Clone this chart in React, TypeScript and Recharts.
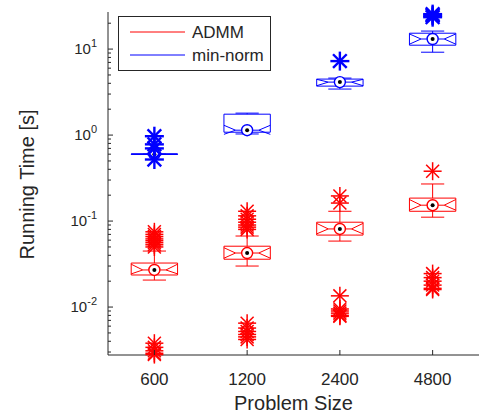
import React from 'react';
import { ComposedChart, Line, Scatter, XAxis, YAxis, Legend } from 'recharts';

// ---------- data ----------
const categories = ['600', '1200', '2400', '4800'];
const positions = [1, 2, 3, 4];
const seriesNames = ['ADMM', 'min-norm'];
const seriesColors = ['#ff0000', '#0000ff'];

const admmMedian = [0.027, 0.0425, 0.081, 0.153];
const admmQ1 = [0.0236, 0.036, 0.0687, 0.13];
const admmQ3 = [0.0325, 0.051, 0.097, 0.185];
const admmNotchLo = [0.0243, 0.037, 0.071, 0.134];
const admmNotchHi = [0.0315, 0.049, 0.094, 0.178];
const admmWhiskerLo = [0.0206, 0.03, 0.0585, 0.111];
const admmWhiskerHi = [0.0448, 0.067, 0.13, 0.27];
const admmOutliers = [
  [0.075, 0.07, 0.066, 0.062, 0.059, 0.056, 0.053, 0.05, 0.0038, 0.0034, 0.0031, 0.0029, 0.0028],
  [0.13, 0.115, 0.105, 0.097, 0.09, 0.085, 0.08, 0.0065, 0.0057, 0.0052, 0.0048, 0.0045, 0.0042],
  [0.196, 0.162, 0.0135, 0.0095, 0.009, 0.0085, 0.008, 0.0078],
  [0.38, 0.0245, 0.022, 0.02, 0.018, 0.0165, 0.016],
];

const minNormMedian = [0.6, 1.14, 4.13, 13.1];
const minNormQ1 = [0.597, 1.08, 3.71, 11.1];
const minNormQ3 = [0.603, 1.75, 4.48, 15.3];
const minNormNotchLo = [0.6, 1.02, 3.75, 11.4];
const minNormNotchHi = [0.6, 1.3, 4.45, 15.0];
const minNormWhiskerLo = [0.597, 1.03, 3.43, 9.2];
const minNormWhiskerHi = [0.603, 1.8, 4.6, 16.2];
const minNormOutliers = [
  [0.97, 0.78, 0.7, 0.52],
  [],
  [7.25],
  [24.5, 23.5, 25.5],
];

const yMajorTicks = [0.01, 0.1, 1, 10];
const yMinorTicks = [
  0.003, 0.004, 0.005, 0.006, 0.007, 0.008, 0.009,
  0.02, 0.03, 0.04, 0.05, 0.06, 0.07, 0.08, 0.09,
  0.2, 0.3, 0.4, 0.5, 0.6, 0.7, 0.8, 0.9,
  2, 3, 4, 5, 6, 7, 8, 9, 20,
];
const yDomain = [0.00277, 27];
const xDomain = [0.5, 4.5];

// ---------- helpers ----------
const HALF = 0.25; // half box width (x units)
const FONT = '"Liberation Sans", Arial, Helvetica, sans-serif';
const AX = '#262626';

type P = { x: number; y: number | null };

function boxPaths(q1: number[], q3: number[], med: number[], nLo: number[], nHi: number[], wLo: number[], wHi: number[]): P[] {
  const pts: P[] = [];
  const seg = (arr: number[][]) => {
    arr.forEach(([x, y]) => pts.push({ x, y }));
    pts.push({ x: arr[arr.length - 1][0], y: null });
  };
  positions.forEach((p, i) => {
    seg([[p - HALF, q3[i]], [p + HALF, q3[i]], [p + HALF, q1[i]], [p - HALF, q1[i]], [p - HALF, q3[i]]]);
    seg([[p - HALF, nHi[i]], [p - HALF / 2, med[i]], [p - HALF, nLo[i]]]);
    seg([[p + HALF, nHi[i]], [p + HALF / 2, med[i]], [p + HALF, nLo[i]]]);
    seg([[p - HALF / 2, med[i]], [p + HALF / 2, med[i]]]);
    seg([[p, q3[i]], [p, wHi[i]]]);
    seg([[p - HALF / 2, wHi[i]], [p + HALF / 2, wHi[i]]]);
    seg([[p, q1[i]], [p, wLo[i]]]);
    seg([[p - HALF / 2, wLo[i]], [p + HALF / 2, wLo[i]]]);
  });
  return pts;
}

const admmBox = boxPaths(admmQ1, admmQ3, admmMedian, admmNotchLo, admmNotchHi, admmWhiskerLo, admmWhiskerHi);
const minNormBox = boxPaths(minNormQ1, minNormQ3, minNormMedian, minNormNotchLo, minNormNotchHi, minNormWhiskerLo, minNormWhiskerHi);

const medianPts = (m: number[]) => positions.map((p, i) => ({ x: p, y: m[i] }));
const outlierPts = (o: number[][]) => positions.flatMap((p, i) => o[i].map((v) => ({ x: p, y: v })));

const admmMedPts = medianPts(admmMedian);
const minNormMedPts = medianPts(minNormMedian);
const admmOutPts = outlierPts(admmOutliers);
const minNormOutPts = outlierPts(minNormOutliers);

const medianShape = (color: string) => (props: any) => {
  const { cx, cy } = props;
  if (cx == null || cy == null) return <g />;
  return (
    <g>
      <circle cx={cx} cy={cy} r={5.5} fill="#fff" stroke={color} strokeWidth={1.4} />
      <circle cx={cx} cy={cy} r={2} fill="#000" />
    </g>
  );
};

const asteriskShape = (color: string, half: number, sw: number) => (props: any) => {
  const { cx, cy } = props;
  if (cx == null || cy == null) return <g />;
  const d = half * 0.72;
  return (
    <g stroke={color} strokeWidth={sw} strokeLinecap="butt">
      <line x1={cx - half} y1={cy} x2={cx + half} y2={cy} />
      <line x1={cx} y1={cy - half} x2={cx} y2={cy + half} />
      <line x1={cx - d} y1={cy - d} x2={cx + d} y2={cy + d} />
      <line x1={cx - d} y1={cy + d} x2={cx + d} y2={cy - d} />
    </g>
  );
};

const isMajor = (v: number) => Math.abs(Math.log10(v) - Math.round(Math.log10(v))) < 1e-6;

const LeftYTick = (props: any) => {
  const { x, y, payload } = props;
  const v = payload.value;
  const major = isMajor(v);
  const len = major ? 5 : 3;
  const exp = Math.round(Math.log10(v));
  return (
    <g>
      <line x1={x} x2={x + len} y1={y} y2={y} stroke={AX} strokeWidth={1} />
      {major && (
        <text x={x - 11} y={y + 5} textAnchor="end" fontFamily={FONT} fontSize={15} fill={AX}>
          10<tspan dy={-7} fontSize={11}>{String(exp)}</tspan>
        </text>
      )}
    </g>
  );
};

const RightYTick = (props: any) => {
  const { x, y, payload } = props;
  const len = isMajor(payload.value) ? 5 : 3;
  return <line x1={x} x2={x - len} y1={y} y2={y} stroke={AX} strokeWidth={1} />;
};

const BottomXTick = (props: any) => {
  const { x, y, payload } = props;
  return (
    <g>
      <line x1={x} x2={x} y1={y} y2={y - 5} stroke={AX} strokeWidth={1} />
      <text x={x} y={y + 30} textAnchor="middle" fontFamily={FONT} fontSize={17} fill={AX}>
        {categories[payload.value - 1]}
      </text>
    </g>
  );
};

const TopXTick = (props: any) => {
  const { x, y } = props;
  return <line x1={x} x2={x} y1={y} y2={y + 5} stroke={AX} strokeWidth={1} />;
};

const LegendBox = () => (
  <svg width={153} height={55} style={{ display: 'block' }}>
    <rect x={0.5} y={0.5} width={152} height={54} fill="#fff" stroke={AX} strokeWidth={1} />
    {seriesNames.map((n, i) => (
      <g key={n}>
        <line x1={12} x2={67} y1={16 + i * 23} y2={16 + i * 23} stroke={seriesColors[i]} strokeWidth={1} />
        <text x={74} y={22 + i * 23} fontFamily={FONT} fontSize={17} fill={AX}>{n}</text>
      </g>
    ))}
  </svg>
);

export default function App() {
  const allYTicks = [...yMinorTicks, ...yMajorTicks].sort((a, b) => a - b);
  return (
    <div style={{ position: 'absolute', left: 0, top: 0, width: 492, height: 414, background: '#fff' }}>
      <ComposedChart width={492} height={414} margin={{ top: 12, right: 13, bottom: 0, left: 0 }}>
        <XAxis
          xAxisId="bottom"
          dataKey="x"
          type="number"
          domain={xDomain}
          ticks={positions}
          interval={0}
          height={59}
          tickSize={0}
          tickMargin={0}
          tickLine={false}
          axisLine={{ stroke: AX, strokeWidth: 1 }}
          tick={<BottomXTick />}
          label={(p: any) => {
            const vb = p.viewBox || { x: 108, y: 355, width: 371 };
            return (
              <text x={vb.x + vb.width / 2} y={vb.y + 55} textAnchor="middle" fontFamily={FONT} fontSize={20} fill={AX}>
                Problem Size
              </text>
            );
          }}
        />
        <XAxis
          xAxisId="top"
          orientation="top"
          dataKey="x"
          type="number"
          domain={xDomain}
          ticks={positions}
          interval={0}
          height={0}
          tickSize={0}
          tickMargin={0}
          tickLine={false}
          axisLine={{ stroke: AX, strokeWidth: 1 }}
          tick={<TopXTick />}
        />
        <YAxis
          yAxisId="left"
          dataKey="y"
          type="number"
          scale="log"
          domain={yDomain}
          ticks={allYTicks}
          interval={0}
          width={108}
          tickSize={0}
          tickMargin={0}
          tickLine={false}
          axisLine={{ stroke: AX, strokeWidth: 1 }}
          tick={<LeftYTick />}
          label={(p: any) => {
            const vb = p.viewBox || { x: 0, y: 12, height: 343 };
            const cx = vb.x + 27;
            const cy = vb.y + vb.height / 2 + 1;
            return (
              <text x={cx} y={cy} transform={`rotate(-90 ${cx} ${cy})`} textAnchor="middle" dominantBaseline="central" fontFamily={FONT} fontSize={20} fill={AX}>
                Running Time [s]
              </text>
            );
          }}
        />
        <YAxis
          yAxisId="right"
          orientation="right"
          dataKey="y"
          type="number"
          scale="log"
          domain={yDomain}
          ticks={allYTicks}
          interval={0}
          width={0}
          tickSize={0}
          tickMargin={0}
          tickLine={false}
          axisLine={{ stroke: AX, strokeWidth: 1 }}
          tick={<RightYTick />}
        />
        <Legend
          layout="horizontal"
          verticalAlign="middle"
          align="center"
          wrapperStyle={{ position: 'absolute', left: 118, top: 16, width: 153, height: 55 }}
          content={() => <LegendBox />}
        />
        <Line
          xAxisId="bottom"
          yAxisId="left"
          data={admmBox}
          dataKey="y"
          name={seriesNames[0]}
          stroke={seriesColors[0]}
          strokeWidth={1}
          dot={false}
          activeDot={false}
          connectNulls={false}
          isAnimationActive={false}
        />
        <Line
          xAxisId="bottom"
          yAxisId="left"
          data={minNormBox}
          dataKey="y"
          name={seriesNames[1]}
          stroke={seriesColors[1]}
          strokeWidth={1}
          dot={false}
          activeDot={false}
          connectNulls={false}
          isAnimationActive={false}
        />
        <Scatter xAxisId="bottom" yAxisId="left" data={admmMedPts} dataKey="y" shape={medianShape(seriesColors[0])} isAnimationActive={false} legendType="none" />
        <Scatter xAxisId="bottom" yAxisId="left" data={minNormMedPts} dataKey="y" shape={medianShape(seriesColors[1])} isAnimationActive={false} legendType="none" />
        <Scatter xAxisId="bottom" yAxisId="left" data={admmOutPts} dataKey="y" shape={asteriskShape(seriesColors[0], 9, 1.5)} isAnimationActive={false} legendType="none" />
        <Scatter xAxisId="bottom" yAxisId="left" data={minNormOutPts} dataKey="y" shape={asteriskShape(seriesColors[1], 9.5, 2.4)} isAnimationActive={false} legendType="none" />
      </ComposedChart>
    </div>
  );
}
